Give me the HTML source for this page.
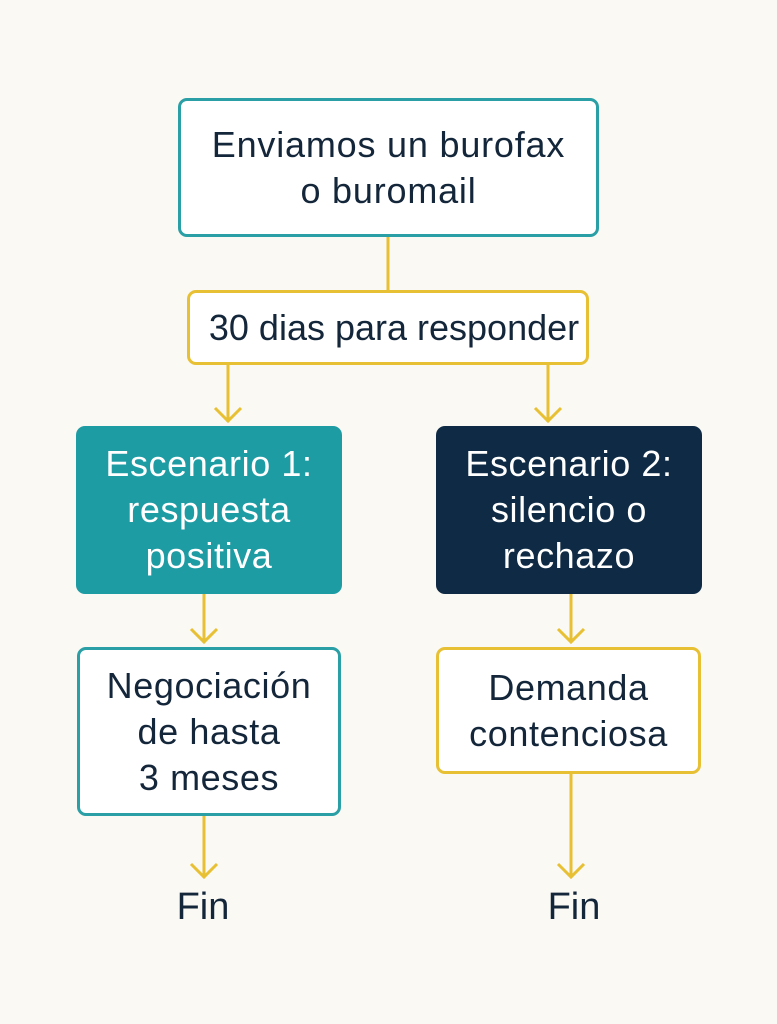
<!DOCTYPE html>
<html><head><meta charset="utf-8"><style>
body{margin:0;width:777px;height:1024px;background:#fbf9f4;position:relative;overflow:hidden;font-family:"Liberation Sans",sans-serif;color:#14263a}
.b{position:absolute;box-sizing:border-box;border-radius:9px;display:flex;align-items:center;justify-content:center;text-align:center;font-size:36px;line-height:46px;letter-spacing:0.6px;white-space:nowrap}
.t{border:3px solid #2a9fa5;background:#fff}
.y{border:3px solid #e8c033;background:#fff}
.f{position:absolute;font-size:38px;width:100px;text-align:center}
svg{position:absolute;left:0;top:0}
</style></head><body>
<svg width="777" height="1024" fill="none" stroke="#e8c033" stroke-width="3">
<line x1="388" y1="236" x2="388" y2="291"/>
<line x1="228" y1="364" x2="228" y2="422"/><polyline points="215,408 228,421 241,408"/>
<line x1="548" y1="364" x2="548" y2="422"/><polyline points="535,408 548,421 561,408"/>
<line x1="204" y1="593" x2="204" y2="642"/><polyline points="191,629 204,642 217,629"/>
<line x1="571" y1="593" x2="571" y2="642"/><polyline points="558,629 571,642 584,629"/>
<line x1="204" y1="815" x2="204" y2="877"/><polyline points="191,864 204,877 217,864"/>
<line x1="571" y1="773" x2="571" y2="877"/><polyline points="558,864 571,877 584,864"/>
</svg>
<div class="b t" style="left:178px;top:98px;width:421px;height:139px;letter-spacing:0.8px">Enviamos un burofax<br>o buromail</div>
<div class="b y" style="left:187px;top:290px;width:402px;height:75px;letter-spacing:0;padding-left:12px">30 dias para responder</div>
<div class="b" style="left:76px;top:426px;width:266px;height:168px;background:#1d9ca4;color:#fff">Escenario 1:<br>respuesta<br>positiva</div>
<div class="b" style="left:436px;top:426px;width:266px;height:168px;background:#0e2a44;color:#fff">Escenario 2:<br>silencio o<br>rechazo</div>
<div class="b t" style="left:77px;top:647px;width:264px;height:169px">Negociación<br>de hasta<br>3 meses</div>
<div class="b y" style="left:436px;top:647px;width:265px;height:127px">Demanda<br>contenciosa</div>
<div class="f" style="left:153px;top:886px">Fin</div>
<div class="f" style="left:524px;top:886px">Fin</div>
</body></html>
